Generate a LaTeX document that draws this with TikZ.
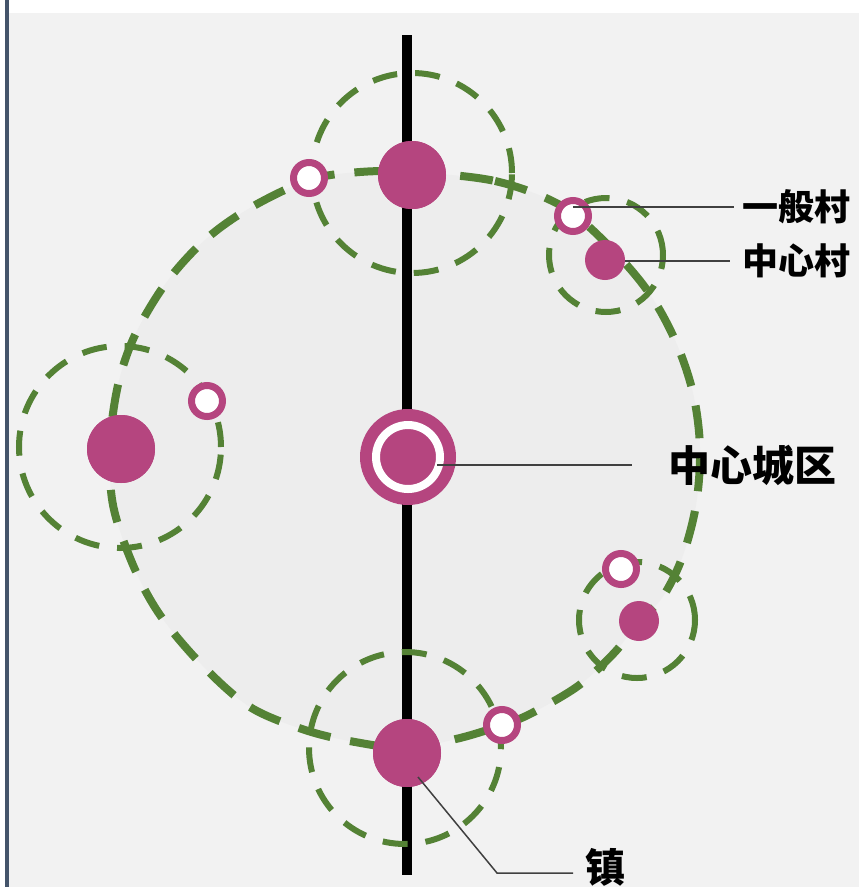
\documentclass[tikz,border=0pt]{standalone}
\usepackage{fontspec}
\newfontfamily\cjk{Noto Sans CJK SC}
\definecolor{zonegreen}{HTML}{548235}
\definecolor{towncol}{HTML}{B5457F}
\definecolor{bggray}{HTML}{F2F2F2}
\definecolor{discgray}{HTML}{EDEDED}
\definecolor{edgeblue}{HTML}{44546A}
\definecolor{leadgray}{HTML}{404040}
% outline of the whole county
\newcommand{\countyline}{plot[smooth cycle, tension=0.55] coordinates {
  (412,172) (495,181) (560,205) (605,242) (647,290) (675,340) (693,393)
  (700,448) (696,505) (682,558) (662,598) (639,621) (615,652) (578,686)
  (530,714) (502,725) (460,738) (407,748) (355,742) (305,730) (250,707)
  (202,665) (160,615) (133,565) (113,505) (110,445) (118,385) (135,335)
  (166,283) (205,240) (250,208) (309,180) (360,172)}}

\begin{document}
\begin{tikzpicture}[x=1pt, y=-1pt, line cap=butt,
  town/.style={circle, fill=towncol, minimum size=68pt, inner sep=0pt},
  hubvillage/.style={circle, fill=towncol, minimum size=40pt, inner sep=0pt},
  village/.style={circle, draw=towncol, fill=white, line width=7pt, minimum size=31pt, inner sep=0pt},
  zone/.style={draw=zonegreen, line width=6pt, dash pattern=on 25pt off 18pt},
  county/.style={draw=zonegreen, line width=8pt, dash pattern=on 33pt off 20pt},
  leader/.style={draw=leadgray, line width=1.5pt},
  lab/.style={font=\cjk\bfseries\fontsize{36}{36}\selectfont, inner sep=0pt, anchor=west}]

  \useasboundingbox (0,0) rectangle (859,887);
  \fill[white] (0,0) rectangle (859,887);
  \fill[bggray] (9,13) rectangle (859,887);
  \fill[edgeblue] (5,0) rectangle (9,887);

  % county disc and road
  \fill[discgray] \countyline;
  \coordinate (roadtop) at (407,35);
  \coordinate (roadbot) at (407,875);
  \draw[line width=10pt] (roadtop) -- (roadbot);
  \draw[county] \countyline;

  % towns and their zones
  \node[town] (ttop) at (412,175) {};
  \node[town] (tleft) at (121,449) {};
  \node[town] (tbot) at (407,753) {};
  \draw[zone] (412,173) circle (100pt);
  \draw[zone] (120,447) circle (101pt);
  \draw[zone] (405,748) circle (96pt);

  % central villages and their zones
  \draw[zone] (606,255) circle (57pt);
  \draw[zone] (637,620) circle (58pt);
  \node[hubvillage] (hv1) at (605,260) {};
  \node[hubvillage] (hv2) at (639,621) {};
  \node[town] at (ttop) {};
  \node[town] at (tleft) {};
  \node[town] at (tbot) {};

  % ordinary villages
  \node[village] (gv1) at (309,178) {};
  \node[village] (gv2) at (573,216) {};
  \node[village] (gv3) at (207,401) {};
  \node[village] (gv4) at (621,569) {};
  \node[village] (gv5) at (502,725) {};

  % city centre
  \node[town, minimum size=96pt] (city) at (408,457) {};
  \draw[white, line width=8pt] (city) circle (32pt);

  % labels
  \node[lab] (lgen) at (742,207) {一般村};
  \node[lab] (lhub) at (742,261) {中心村};
  \node[lab, font=\cjk\bfseries\fontsize{42}{42}\selectfont] (lcity) at (668,465) {中心城区};
  \node[lab, font=\cjk\bfseries\fontsize{40}{40}\selectfont] (ltown) at (585,867) {镇};

  \draw[leader] (gv2.center |- lgen.west) -- ([xshift=-8pt]lgen.west);
  \draw[leader] (hv1.east |- lhub.west) -- ([xshift=-12pt]lhub.west);
  \draw[leader] ([xshift=29pt]city.center |- lcity.west) -- ([xshift=-36pt]lcity.west);
  \coordinate (ktown) at (418,777);
  \coordinate (kbend) at (497,873);
  \coordinate (kend) at (573,873);
  \draw[leader] (ktown) -- (kbend) -- (kend);

\end{tikzpicture}
\end{document}
